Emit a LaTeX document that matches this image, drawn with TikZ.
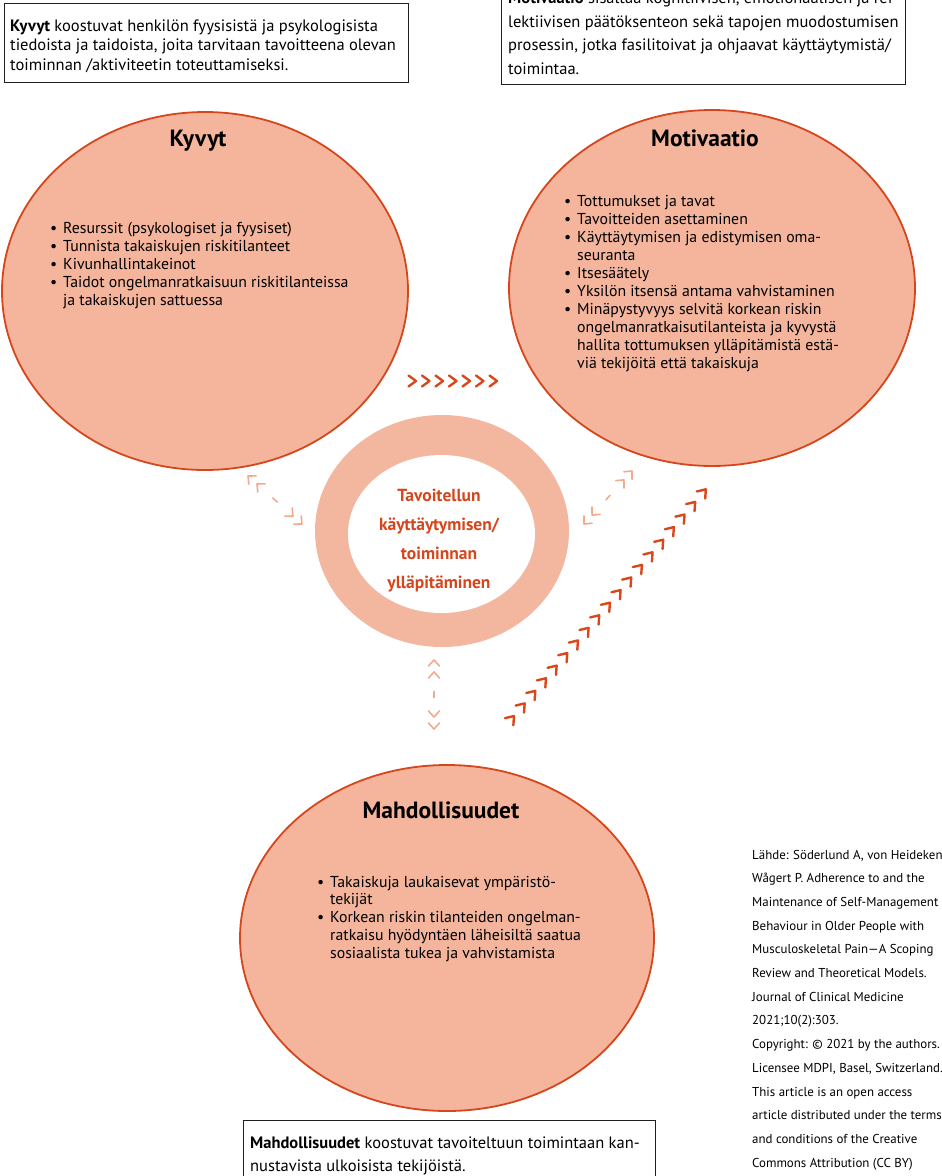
\documentclass[tikz,border=0pt]{standalone}
\usepackage{fontspec}
\setmainfont{PT Sans}
\usetikzlibrary{shapes.geometric,decorations.markings}
\definecolor{ellfill}{HTML}{F4B59C}
\definecolor{ellline}{HTML}{D6461C}
\definecolor{ringfill}{HTML}{F3B69E}
\definecolor{lightchev}{HTML}{F2A98E}
\definecolor{redchev}{HTML}{D9481C}
\newcommand\txtlines[1]{\begin{tabular}[t]{@{}l@{}}#1\end{tabular}}
\newcommand\ctrlines[1]{\begin{tabular}[t]{@{}c@{}}#1\end{tabular}}
\newcommand\bitem{\makebox[13pt][l]{\textbullet}}
\newcommand\bcont{\hspace*{13pt}}
\newcommand\redchevF{\draw[redline] (-7.5pt,5.5pt) -- (0pt,0pt) -- (-7.5pt,-5.5pt);}
\newcommand\lightchevF{\draw[lightline] (-6pt,5.5pt) -- (0pt,0pt) -- (-6pt,-5.5pt);}
\newcommand\lightchevB{\draw[lightline] (6pt,5.5pt) -- (0pt,0pt) -- (6pt,-5.5pt);}
\newcommand\lightdash{\draw[lightline] (-3pt,0pt) -- (3pt,0pt);}
\begin{document}
\begin{tikzpicture}[x=1pt,y=-1pt,
  ell/.style={ellipse, draw=ellline, line width=1.8pt, fill=ellfill, inner sep=0pt},
  infobox/.style={draw=black!88, line width=1.4pt, fill=white, anchor=north west, inner sep=0pt},
  boxtext/.style={anchor=base west, inner sep=0pt, font=\fontsize{16.5}{#1}\selectfont},
  listtext/.style={anchor=base west, inner sep=0pt, font=\fontsize{15.8}{#1}\selectfont},
  titletext/.style={anchor=base, inner sep=0pt, font=\bfseries\fontsize{23.5}{28}\selectfont},
  redline/.style={draw=redchev, line width=2.4pt, line cap=round, line join=round},
  lightline/.style={draw=lightchev, line width=1.6pt, line cap=round, line join=round},
  redchain/.style={decorate, decoration={markings, mark=between positions 0 and 1 step #1 with {\redchevF}}},
  lightpair/.style={decorate, decoration={markings,
      mark=at position 0 with {\lightchevB},
      mark=at position 12pt with {\lightchevB},
      mark=at position 0.5 with {\lightdash},
      mark=at position -12pt with {\lightchevF},
      mark=at position 1 with {\lightchevF}}}
]
\useasboundingbox (0,0) rectangle (942,1176);
\clip (0,0) rectangle (942,1176);

% info boxes
\node[infobox, minimum width=404pt, minimum height=79pt] (kbox) at (4,3) {};
\node[boxtext=19.5] (ktext) at (10,31) {\txtlines{\textbf{Kyvyt} koostuvat henkilön fyysisistä ja psykologisista\\
tiedoista ja taidoista, joita tarvitaan tavoitteena olevan\\
toiminnan /aktiviteetin toteuttamiseksi.}};

\node[infobox, minimum width=404pt, minimum height=100pt] (mbox) at (501,-16) {};
\node[boxtext=23.5] (mtext) at (508,3.5) {\txtlines{\textbf{Motivaatio} sisältää kognitiivisen, emotionaalisen ja ref-\\
lektiivisen päätöksenteon sekä tapojen muodostumisen\\
prosessin, jotka fasilitoivat ja ohjaavat käyttäytymistä/\\
toimintaa.}};

\node[infobox, minimum width=412pt, minimum height=72pt] (obox) at (243,1120) {};
\node[boxtext=23] (otext) at (250,1148) {\txtlines{\textbf{Mahdollisuudet} koostuvat tavoiteltuun toimintaan kan-\\
nustavista ulkoisista tekijöistä.}};

% ellipses
\node[ell, minimum width=406pt, minimum height=358pt] (kyvyt) at (205,291) {};
\node[ell, minimum width=406pt, minimum height=356pt] (motiv) at (712,288) {};
\node[ell, minimum width=414pt, minimum height=346pt] (mahd) at (447,938) {};

% central ring
\node[ellipse, fill=ringfill, minimum width=254pt, minimum height=232pt, inner sep=0pt] (ring) at (442,531) {};
\node[ellipse, fill=white, minimum width=187pt, minimum height=158pt, inner sep=0pt] (ringin) at (441.5,534) {};

% titles
\node[titletext] (kyvytT) at (198,146) {Kyvyt};
\node[titletext] (motivT) at (705,146) {Motivaatio};
\node[titletext] (mahdT) at (441,818) {Mahdollisuudet};

% bullet lists
\node[listtext=18] (kyvytL) at (50,233) {\txtlines{\bitem Resurssit (psykologiset ja fyysiset)\\
\bitem Tunnista takaiskujen riskitilanteet\\
\bitem Kivunhallintakeinot\\
\bitem Taidot ongelmanratkaisuun riskitilanteissa\\
\bcont ja takaiskujen sattuessa}};

\node[listtext=18] (motivL) at (564,206) {\txtlines{\bitem Tottumukset ja tavat\\
\bitem Tavoitteiden asettaminen\\
\bitem Käyttäytymisen ja edistymisen oma-\\
\bcont seuranta\\
\bitem Itsesäätely\\
\bitem Yksilön itsensä antama vahvistaminen\\
\bitem Minäpystyvyys selvitä korkean riskin\\
\bcont ongelmanratkaisutilanteista ja kyvystä\\
\bcont hallita tottumuksen ylläpitämistä estä-\\
\bcont viä tekijöitä että takaiskuja}};

\node[listtext=17.8] (mahdL) at (317,887) {\txtlines{\bitem Takaiskuja laukaisevat ympäristö-\\
\bcont tekijät\\
\bitem Korkean riskin tilanteiden ongelman-\\
\bcont ratkaisu hyödyntäen läheisiltä saatua\\
\bcont sosiaalista tukea ja vahvistamista}};

% centre text
\node[anchor=base, inner sep=0pt, text=ellline, font=\bfseries\fontsize{17.5}{29.3}\selectfont] (goal) at (439,501) {\ctrlines{Tavoitellun\\käyttäytymisen/\\toiminnan\\ylläpitäminen}};

% source text
\node[anchor=base west, inner sep=0pt, font=\fontsize{12.9}{23.7}\selectfont] (source) at (752,859) {\txtlines{Lähde: Söderlund A, von Heideken\\
Wågert P. Adherence to and the\\
Maintenance of Self-Management\\
Behaviour in Older People with\\
Musculoskeletal Pain—A Scoping\\
Review and Theoretical Models.\\
Journal of Clinical Medicine\\
2021;10(2):303.\\
Copyright: © 2021 by the authors.\\
Licensee MDPI, Basel, Switzerland.\\
This article is an open access\\
article distributed under the terms\\
and conditions of the Creative\\
Commons Attribution (CC BY)}};

% connectors
\coordinate (h1) at (416,381);
\coordinate (h2) at (497.5,381);
\path[redchain=13.5pt] (h1) -- (h2);

\coordinate (d1) at (514,716);
\coordinate (d2) at (706.5,488.5);
\path[redchain=16.5pt] (d1) -- (d2);

\coordinate (l1) at (248,476);
\coordinate (l2) at (302,524);
\path[lightpair] (l1) -- (l2);

\coordinate (r1) at (584,524);
\coordinate (r2) at (632,471);
\path[lightpair] (r1) -- (r2);

\coordinate (v1) at (434,660);
\coordinate (v2) at (434,729);
\path[lightpair] (v1) -- (v2);
\end{tikzpicture}
\end{document}
